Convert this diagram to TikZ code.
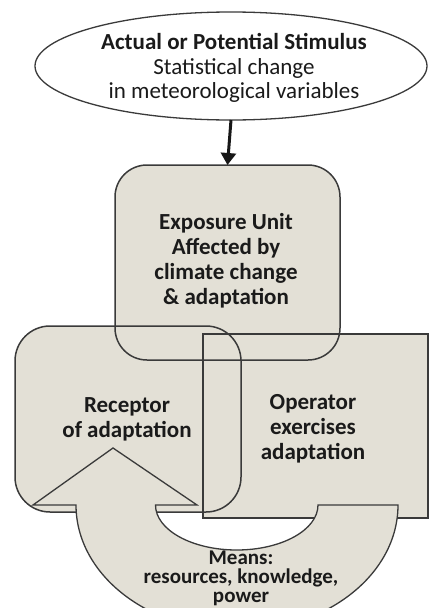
\documentclass[tikz,border=0pt]{standalone}
\usepackage{fontspec}
\setmainfont{Carlito}
\usetikzlibrary{arrows.meta,shapes.geometric}
\definecolor{boxfill}{HTML}{E3E0D6}
\definecolor{edge}{HTML}{3A3A3A}
\definecolor{ink}{HTML}{1A1A1A}
\tikzset{
  panel/.style={fill=boxfill, draw=none, outer sep=0pt, inner sep=0pt},
  outline/.style={draw=edge, line width=1.5pt},
  label/.style={text=ink, align=center, font=\fontsize{23}{25}\selectfont\bfseries, inner sep=0pt},
}
\begin{document}
\begin{tikzpicture}[x=1pt,y=-1pt]
\useasboundingbox (0,0) rectangle (430,608);
\clip (0,0) rectangle (430,608);
% stimulus ellipse
\node[ellipse, fill=white, draw=edge, line width=1.3pt, minimum width=392pt, minimum height=108pt, inner sep=0pt, outer sep=0pt] (stim) at (231,66) {};
\node[text=ink, align=center, inner sep=0pt, font=\fontsize{23}{24.5}\selectfont] (stimtext) at (234,68)
  {\textbf{Actual or Potential Stimulus}\\Statistical change\\in meteorological variables};
% box fills
\node[panel, rounded corners=32pt, minimum width=225pt, minimum height=195pt] (expo) at (227.5,262.5) {};
\node[panel, rounded corners=35pt, minimum width=226pt, minimum height=186pt] (recep) at (128,419) {};
\node[panel, minimum width=225pt, minimum height=184pt] (oper) at (315.5,426) {};
% box outlines
\draw[outline, rounded corners=32pt] (expo.south west) rectangle (expo.north east);
\draw[outline, rounded corners=35pt] (recep.south west) rectangle (recep.north east);
\draw[outline] (oper.south west) rectangle (oper.north east);
% arrow stimulus -> exposure
\draw[edge!40!black, line width=3pt, -{Triangle[width=15pt,length=12pt]}] (stim.south) -- (expo.north);
% texts
\node[label] (expotext) at (226,261) {Exposure Unit\\Affected by\\climate change\\\& adaptation};
\node[label] (receptext) at (127,419.5) {Receptor\\of adaptation};
\node[label] (opertext) at (313,429) {Operator\\exercises\\adaptation};
% means U-turn arrow
\coordinate (mc) at (237,505);
\draw[outline, line width=1.3pt, fill=boxfill]
  (318,505) -- (398,505)
  arc[start angle=0, end angle=180, x radius=161, y radius=126]
  -- (33,505) -- (113,448) -- (197,505) -- (155.5,505)
  arc[start angle=180, end angle=0, x radius=81.25, y radius=45]
  -- cycle;
\node[text=ink, align=center, inner sep=0pt, font=\fontsize{21}{19}\selectfont\bfseries] (meanstext) at (241,578)
  {Means:\\resources, knowledge,\\power};
\end{tikzpicture}
\end{document}
